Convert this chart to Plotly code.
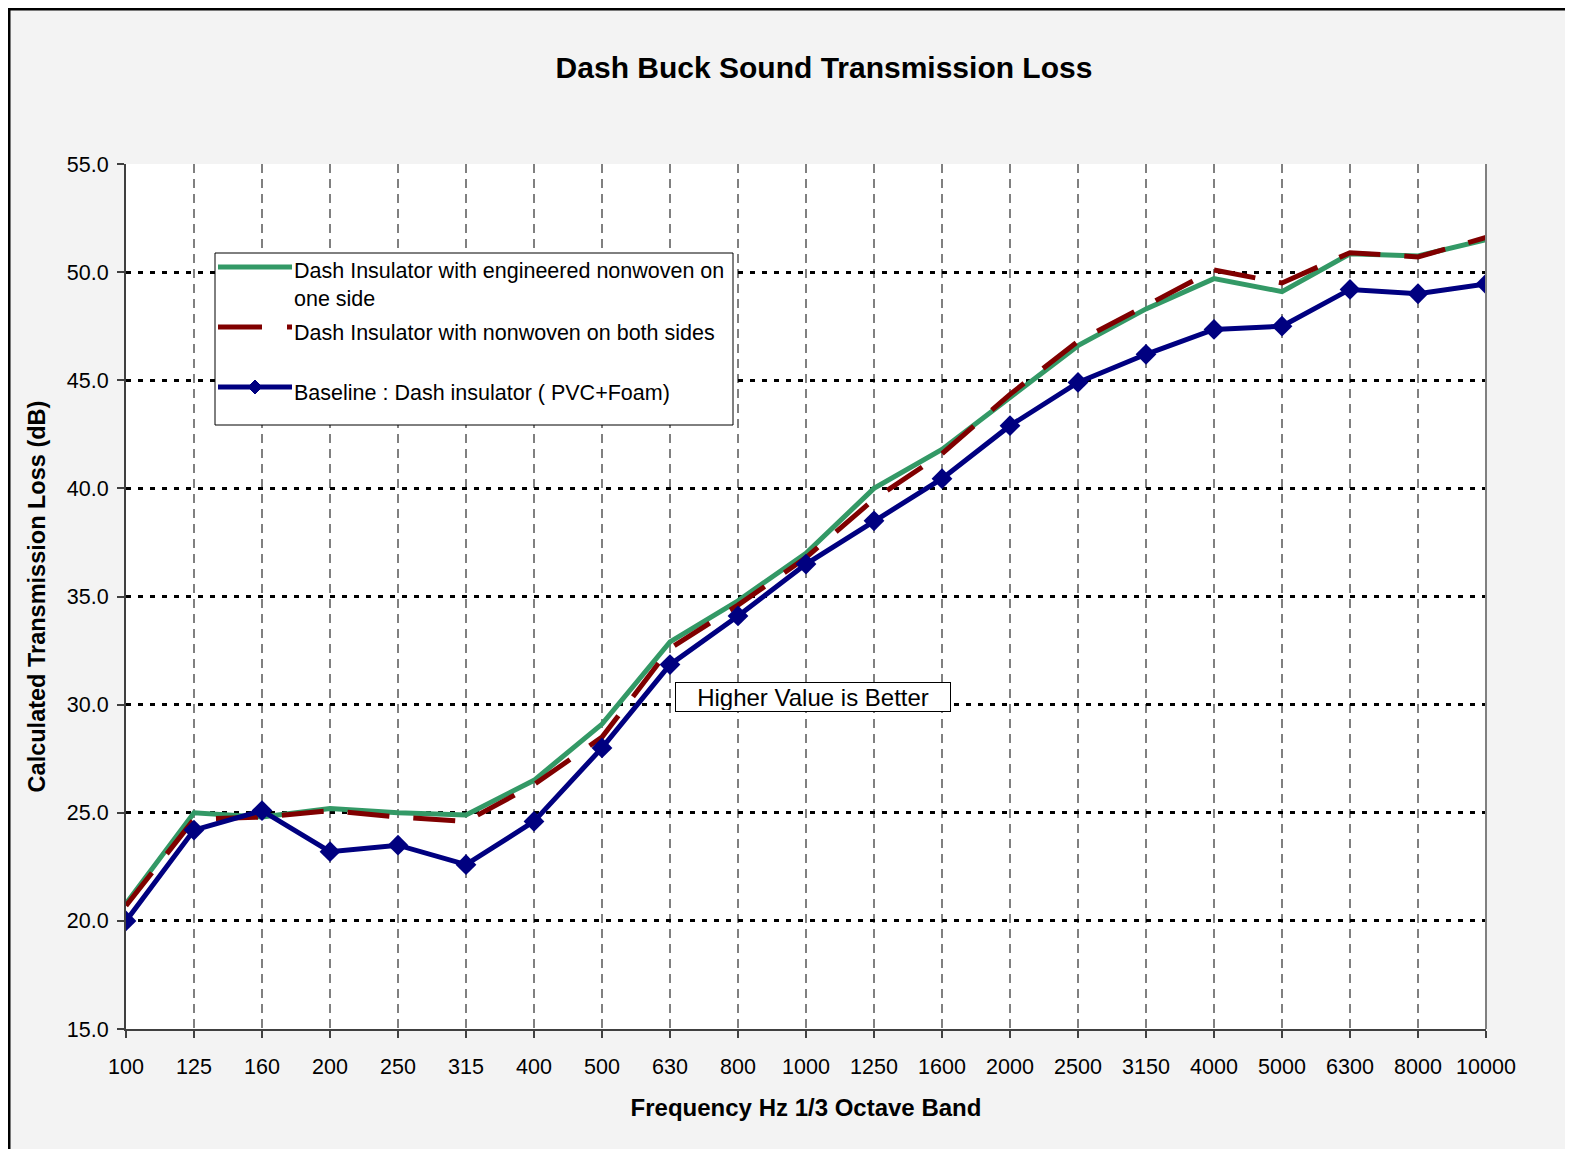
import plotly.graph_objects as go

# 1/3 octave band centre frequencies (Hz)
freqs = ["100", "125", "160", "200", "250", "315", "400", "500", "630", "800", "1000",
         "1250", "1600", "2000", "2500", "3150", "4000", "5000", "6300", "8000", "10000"]

# Calculated transmission loss (dB)
one_side = [20.8, 25.0, 24.8, 25.2, 25.0, 24.9, 26.5, 29.1, 32.9, 34.8, 37.0,
            40.0, 41.8, 44.2, 46.6, 48.3, 49.7, 49.1, 50.85, 50.75, 51.5]
both_sides = [20.7, 24.7, 24.8, 25.1, 24.8, 24.6, 26.3, 28.5, 32.6, 34.6, 36.8,
              39.5, 41.6, 44.35, 46.8, 48.45, 50.1, 49.5, 50.9, 50.7, 51.6]
baseline = [20.0, 24.2, 25.1, 23.2, 23.5, 22.6, 24.6, 28.0, 31.85, 34.1, 36.5,
            38.5, 40.45, 42.9, 44.9, 46.2, 47.35, 47.5, 49.2, 49.0, 49.45]

names = ["Dash Insulator with engineered nonwoven on<br>one side",
         "Dash Insulator with nonwoven on both sides",
         "Baseline : Dash insulator ( PVC+Foam)"]
colors = ["#339966", "#800000", "#000080"]

# page body adds an 8px margin, so the figure is that much smaller
OFF = 8
W, H = 1573 - OFF, 1149 - OFF
L, R, T, B = 126 - OFF, 87, 164 - OFF, 120
FONT = "Liberation Sans, Arial, sans-serif"


# helpers to place things by screen pixel position
def px(x):
    return (x - OFF - L) / (W - L - R)


def py(y):
    return 1 - (y - OFF - T) / (H - T - B)


fig = go.Figure()
fig.add_trace(go.Scatter(x=freqs, y=one_side, name=names[0], mode="lines",
                         line=dict(color=colors[0], width=5)))
fig.add_trace(go.Scatter(x=freqs, y=both_sides, name=names[1], mode="lines",
                         line=dict(color=colors[1], width=5, dash="42px,24px")))
fig.add_trace(go.Scatter(x=freqs, y=baseline, name=names[2], mode="lines+markers",
                         line=dict(color=colors[2], width=5),
                         marker=dict(symbol="diamond", size=16, color=colors[2])))

# outer frame (left and top edges visible)
fig.add_shape(type="rect", xref="paper", yref="paper",
              x0=px(OFF + 1), x1=px(1700), y0=py(OFF + 1), y1=py(1300),
              line=dict(color="black", width=3), layer="below")
# right border of plot area
fig.add_shape(type="line", xref="paper", yref="paper", x0=1, x1=1, y0=0, y1=1,
              line=dict(color="#808080", width=2))

# hand-drawn legend box
fig.add_shape(type="rect", xref="paper", yref="paper",
              x0=px(215), x1=px(733), y0=py(253), y1=py(425),
              line=dict(color="black", width=1), fillcolor="white")
leg_y = [267, 327, 387]
text_y = [285, 333, 393]
dashes = ["solid", "44px,25px", "solid"]
for i in range(3):
    fig.add_shape(type="line", xref="paper", yref="paper",
                  x0=px(218), x1=px(292), y0=py(leg_y[i]), y1=py(leg_y[i]),
                  line=dict(color=colors[i], width=5, dash=dashes[i]))
    fig.add_annotation(x=px(292), y=py(text_y[i]), xref="paper", yref="paper",
                       text=names[i], showarrow=False, xanchor="left", yanchor="middle",
                       align="left", font=dict(size=21.5, color="black", family=FONT))
# diamond on baseline legend line
d = 7
fig.add_shape(type="path", xref="paper", yref="paper",
              path=f"M {px(255 - d)},{py(387)} L {px(255)},{py(387 - d)} "
                   f"L {px(255 + d)},{py(387)} L {px(255)},{py(387 + d)} Z",
              fillcolor=colors[2], line=dict(color=colors[2], width=1))

fig.add_annotation(x=px(813), y=py(697), xref="paper", yref="paper",
                   text="Higher Value is Better", showarrow=False,
                   bgcolor="white", bordercolor="black", borderwidth=1,
                   width=272, height=26, borderpad=1,
                   font=dict(size=24, color="black", family=FONT))

fig.update_layout(
    width=W, height=H,
    margin=dict(l=L, r=R, t=T, b=B),
    paper_bgcolor="#f3f3f3",
    plot_bgcolor="white",
    showlegend=False,
    font=dict(family=FONT, size=21.5, color="black"),
    title=dict(text="<b>Dash Buck Sound Transmission Loss</b>",
               x=(824 - OFF) / W, xref="container", xanchor="center",
               y=1 - (67 - OFF) / H, yref="container", yanchor="middle",
               font=dict(size=30, color="black")),
)

fig.update_xaxes(
    type="category", range=[0, 20],
    showline=True, linecolor="#404040", linewidth=2,
    ticks="outside", ticklen=7, tickcolor="#404040", tickwidth=1.5,
    ticklabelstandoff=10,
    showgrid=True, gridcolor="#808080", gridwidth=1.5, griddash="9px,6px",
    title=dict(text="<b>Frequency Hz 1/3 Octave Band</b>", font=dict(size=24), standoff=21),
)
fig.update_yaxes(
    range=[15, 55], dtick=5, tickformat=".1f",
    showline=True, linecolor="#404040", linewidth=2, zeroline=False,
    ticks="outside", ticklen=7, tickcolor="#404040", tickwidth=1.5,
    ticklabelstandoff=4,
    showgrid=True, gridcolor="black", gridwidth=3, griddash="5px,7px",
    title=dict(text="<b>Calculated Transmission Loss (dB)</b>", font=dict(size=23.5)),
)

fig.write_html("out.html")
